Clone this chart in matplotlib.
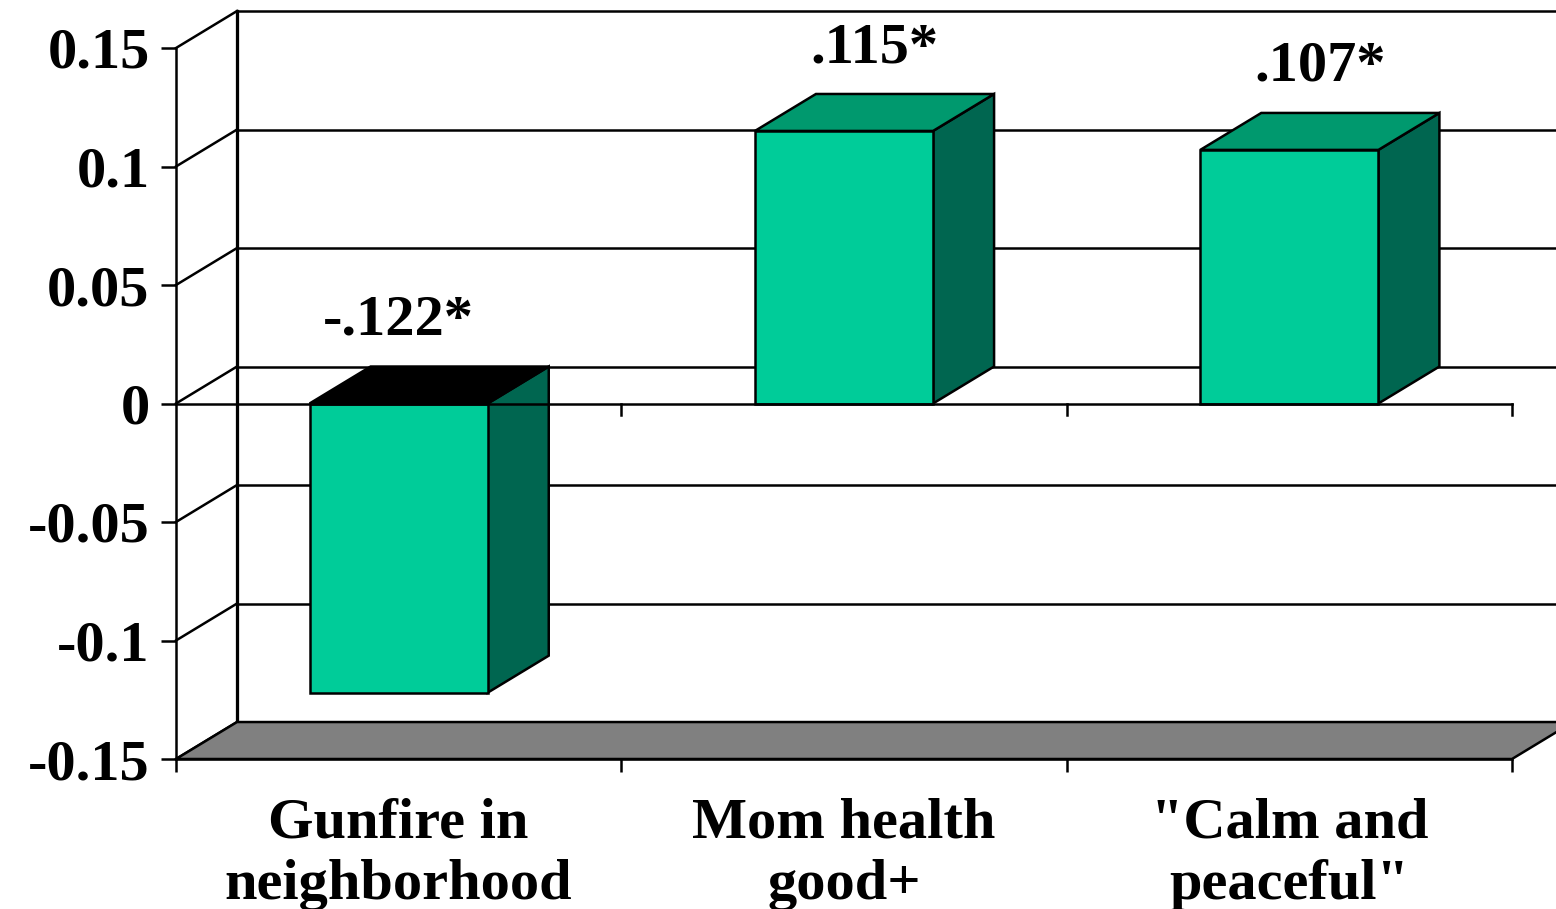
import matplotlib
matplotlib.use("Agg")
import matplotlib.pyplot as plt
import numpy as np
from matplotlib.patches import Polygon, Rectangle

# coefficients per predictor
categories = ["Gunfire in\nneighborhood", "Mom health\ngood+", "\"Calm and\npeaceful\""]
values = [-0.122, 0.115, 0.107]
value_labels = ["-.122*", ".115*", ".107*"]
y_ticks = [-0.15, -0.1, -0.05, 0, 0.05, 0.1, 0.15]
y_tick_labels = ["-0.15", "-0.1", "-0.05", "0", "0.05", "0.1", "0.15"]

FRONT = "#00CC99"
SIDE = "#006650"
TOP = "#00996E"
FLOOR = "#808080"
DX, DY = 0.137, 0.0156      # oblique depth offset, data units
BAR_W = 0.4
LW = 1.8
FS = 42

plt.rcParams["font.family"] = ["Liberation Serif", "DejaVu Serif"]
plt.rcParams["font.weight"] = "bold"

fig = plt.figure(figsize=(15.56, 9.09), dpi=100)
ax = fig.add_axes([176 / 1556, 1 - 759 / 909, 1336 / 1556, 711 / 909])
n = len(categories)
ymin, ymax = y_ticks[0], y_ticks[-1]
ax.set_xlim(0, n)
ax.set_ylim(ymin, ymax)
ax.patch.set_visible(False)

# back wall and left side wall
for t in y_ticks:
    ax.plot([DX, n + DX], [t + DY, t + DY], color="black", lw=LW, zorder=1, clip_on=False)
    ax.plot([0, DX], [t, t + DY], color="black", lw=LW, zorder=1, clip_on=False)
ax.plot([DX, DX], [ymin + DY, ymax + DY], color="black", lw=LW * 1.3, zorder=1, clip_on=False)

# floor
ax.add_patch(Polygon([(0, ymin), (n, ymin), (n + DX, ymin + DY), (DX, ymin + DY)],
                     closed=True, facecolor=FLOOR, edgecolor="black", lw=LW, zorder=2,
                     clip_on=False))

# bars: side, top, front face
centers = np.arange(n) + 0.5
for c, v, lab in zip(centers, values, value_labels):
    x0, x1 = c - BAR_W / 2, c + BAR_W / 2
    top = max(v, 0)
    ax.add_patch(Polygon([(x1, v), (x1 + DX, v + DY), (x1 + DX, DY), (x1, 0)],
                         closed=True, facecolor=SIDE, edgecolor="black", lw=LW, zorder=3,
                         clip_on=False))
    ax.add_patch(Polygon([(x0, top), (x1, top), (x1 + DX, top + DY), (x0 + DX, top + DY)],
                         closed=True, facecolor=TOP if v > 0 else "black",
                         edgecolor="black", lw=LW, zorder=3, clip_on=False))
    ax.add_patch(Rectangle((x0, 0), BAR_W, v, facecolor=FRONT, edgecolor="black",
                           lw=LW, zorder=4, clip_on=False))
    lx = c + DX / 2 if v > 0 else c
    ax.annotate(lab, (lx, top + DY), xytext=(0, 23), textcoords="offset points",
                ha="center", va="baseline", fontsize=FS, fontweight="bold", zorder=6)

# front zero line with category ticks
ax.plot([0, n], [0, 0], color="black", lw=LW, zorder=5, clip_on=False)
for k in range(1, n + 1):
    ax.plot([k, k], [0, -0.005], color="black", lw=LW, zorder=5, clip_on=False)

# axes
for s in ["top", "right"]:
    ax.spines[s].set_visible(False)
for s in ["left", "bottom"]:
    ax.spines[s].set_linewidth(LW)
    ax.spines[s].set_zorder(5)
ax.set_yticks(y_ticks, y_tick_labels)
ax.tick_params(axis="y", direction="out", length=11, width=LW, pad=8, labelsize=FS)
ax.set_xticks(np.arange(n + 1), [""] * (n + 1))
ax.tick_params(axis="x", which="major", direction="out", length=9, width=LW)
ax.set_xticks(centers, categories, minor=True)
ax.tick_params(axis="x", which="minor", length=0, pad=28, labelsize=FS)
for t in ax.get_xticklabels(minor=True):
    t.set_linespacing(1.22)
    t.set_fontweight("bold")
for t in ax.get_yticklabels():
    t.set_fontweight("bold")

fig.savefig("out.png", dpi=100)
